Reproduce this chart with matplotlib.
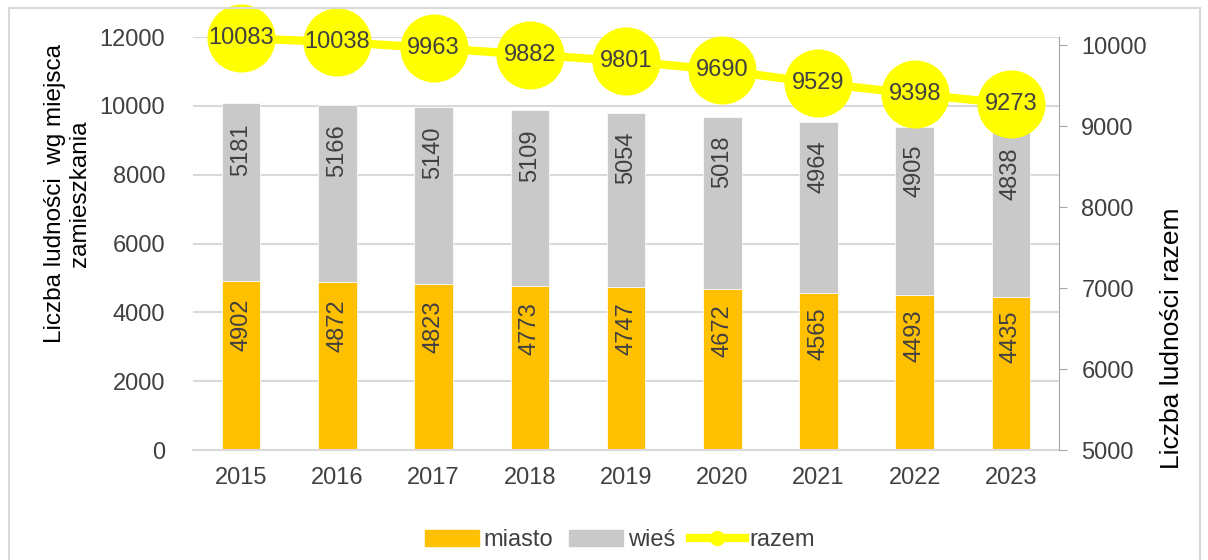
import matplotlib.pyplot as plt
from matplotlib.patches import Rectangle, Patch
from matplotlib.lines import Line2D

plt.rcParams['font.family'] = ['Liberation Sans', 'DejaVu Sans']

years = ['2015', '2016', '2017', '2018', '2019', '2020', '2021', '2022', '2023']
miasto = [4902, 4872, 4823, 4773, 4747, 4672, 4565, 4493, 4435]
wies = [5181, 5166, 5140, 5109, 5054, 5018, 4964, 4905, 4838]
razem = [10083, 10038, 9963, 9882, 9801, 9690, 9529, 9398, 9273]

text_col = '#404040'
c_miasto = '#FFC000'
c_wies = '#C9C9C9'
c_razem = '#FFFF00'

fig = plt.figure(figsize=(12.08, 5.6), dpi=100)
ax = fig.add_axes([0.1598, 0.1964, 0.7169, 0.7375])

# ramka wokół wykresu
fig.patches.append(Rectangle((0.0075, -0.1), 0.986, 1.085, transform=fig.transFigure,
                             fill=False, edgecolor='#D9D9D9', linewidth=1.5))

x = list(range(len(years)))
ax.bar(x, miasto, width=0.4, color=c_miasto, edgecolor='white', linewidth=0.5, zorder=2)
ax.bar(x, wies, width=0.4, bottom=miasto, color=c_wies, edgecolor='white', linewidth=0.5, zorder=2)

for i in x:
    ax.text(i, miasto[i] * 0.74, str(miasto[i]), rotation=90, ha='center', va='center',
            fontsize=17, color=text_col, zorder=3)
    ax.text(i, miasto[i] + wies[i] * 0.74, str(wies[i]), rotation=90, ha='center', va='center',
            fontsize=17, color=text_col, zorder=3)

ax.set_xlim(-0.5, 8.5)
ax.set_ylim(0, 12000)
ax.set_yticks(range(0, 12001, 2000))
ax.set_xticks(x)
ax.set_xticklabels(years)
ax.yaxis.grid(True, color='#D9D9D9', linewidth=1.5, zorder=0)
ax.set_axisbelow(True)
for s in ['top', 'right', 'left']:
    ax.spines[s].set_visible(False)
ax.spines['bottom'].set_color('#D9D9D9')
ax.spines['bottom'].set_linewidth(1.5)
ax.tick_params(axis='both', length=0, labelsize=17, colors=text_col, pad=12)
ax.tick_params(axis='y', pad=20)
ax.set_ylabel('Liczba ludności  wg miejsca\nzamieszkania', fontsize=17.5, color='black',
              linespacing=1.15)
ax.yaxis.set_label_coords(-0.118, 0.62)

ax2 = ax.twinx()
ax2.plot(x, razem, color=c_razem, linewidth=6, marker='o', markersize=48, zorder=4,
         clip_on=False)
for i in x:
    ax2.text(i, razem[i], str(razem[i]), ha='center', va='center', fontsize=17,
             color=text_col, zorder=5)
ax2.set_ylim(5000, 10099)
ax2.set_yticks(range(5000, 10001, 1000))
for s in ['top', 'left', 'bottom']:
    ax2.spines[s].set_visible(False)
ax2.spines['right'].set_color('#A6A6A6')
ax2.tick_params(axis='y', length=6, color='#A6A6A6', labelsize=17, colors=text_col, pad=10)
ax2.set_ylabel('Liczba ludności razem', fontsize=19, color='black')
ax2.yaxis.set_label_coords(1.116, 0.27)

handles = [Patch(color=c_miasto), Patch(color=c_wies),
           Line2D([0], [0], color=c_razem, linewidth=6, marker='o', markersize=10)]
fig.legend(handles, ['miasto', 'wieś', 'razem'], loc='center', bbox_to_anchor=(0.513, 0.035),
           ncol=3, frameon=False, fontsize=17, labelcolor=text_col, handlelength=2.3,
           handleheight=0.7, handletextpad=0.2, columnspacing=0.65)

plt.savefig('out.png', dpi=100)
